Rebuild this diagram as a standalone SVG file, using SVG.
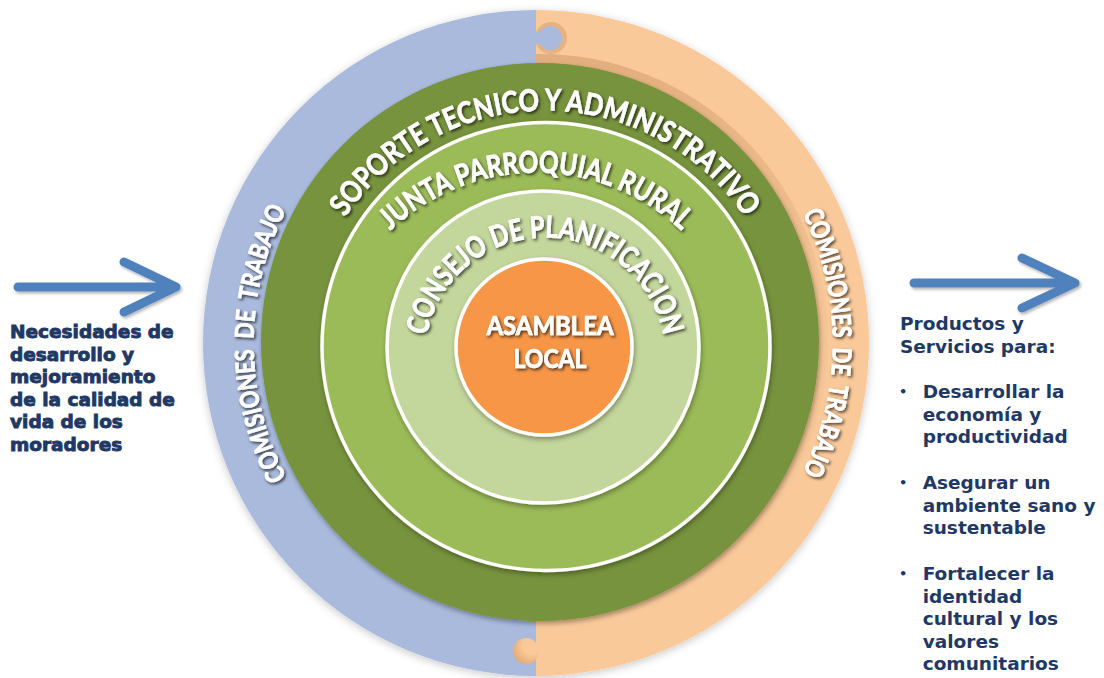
<svg xmlns="http://www.w3.org/2000/svg" xmlns:xlink="http://www.w3.org/1999/xlink" width="1104" height="678" viewBox="0 0 1104 678">
<defs>
<style>
.arc{font-family:Lato,"Open Sans","Liberation Sans",sans-serif;font-weight:700;fill:#fff;stroke:#fff;stroke-width:0.7;filter:url(#tshadow)}
.navy{font-family:"DejaVu Sans","Liberation Sans",sans-serif;font-weight:700;fill:#1F3864}
.left{stroke:#1F3864;stroke-width:0.9;font-size:18.5px}
.right{font-size:18.5px}
.arrow{fill:none;stroke:#4F81BD;stroke-width:9;stroke-linecap:round;stroke-linejoin:round;filter:url(#ashadow)}
.wb{stroke:#fff;stroke-width:3.5}
</style>
<filter id="tshadow" x="-20%" y="-20%" width="140%" height="140%">
<feDropShadow dx="1.5" dy="1.8" stdDeviation="1.4" flood-color="#000" flood-opacity="0.7"/>
</filter>
<filter id="cshadow" x="-10%" y="-10%" width="120%" height="120%">
<feDropShadow dx="1" dy="2.5" stdDeviation="2.5" flood-color="#000" flood-opacity="0.35"/>
</filter>
<filter id="rshadow" x="-10%" y="-10%" width="120%" height="120%">
<feDropShadow dx="0" dy="2" stdDeviation="4" flood-color="#000" flood-opacity="0.22"/>
</filter>
<filter id="ashadow" x="-10%" y="-50%" width="120%" height="200%">
<feDropShadow dx="1.5" dy="2" stdDeviation="1.5" flood-color="#000" flood-opacity="0.3"/>
</filter>
<linearGradient id="bevel" x1="0" y1="0" x2="0" y2="1">
<stop offset="0" stop-color="#8B4513" stop-opacity="0.2"/>
<stop offset="0.4" stop-color="#8B4513" stop-opacity="0.04"/>
<stop offset="1" stop-color="#8B4513" stop-opacity="0"/>
</linearGradient>
<radialGradient id="knob" cx="0.7" cy="0.3" r="0.8">
<stop offset="0.4" stop-color="#F9C999"/>
<stop offset="1" stop-color="#E2A874"/>
</radialGradient>
<clipPath id="rightSide"><rect x="536" y="0" width="568" height="678"/></clipPath>
<path id="pSoporte" d="M304.5,351 A240.5,240.5 0 0 1 785.5,351"/>
<path id="pJunta" d="M324.5,384 A211.5,211.5 0 0 1 747.5,384"/>
<path id="pConsejo" d="M424.5,358 A120.5,120.5 0 0 1 665.5,358"/>
<path id="pComL" d="M540,630 A286,286 0 0 1 540,57"/>
<path id="pComR" d="M540,50 A293,293 0 0 1 540,636"/>
</defs>
<rect width="1104" height="678" fill="#fff"/>

<g id="ring" filter="url(#rshadow)">
<path id="ring-blue" d="M536,10 A333,333 0 0 0 536,676 Z" fill="#A9BADD"/>
<path id="ring-peach" d="M536,10 A333,333 0 1 1 536,676 Z" fill="#F9C999"/>
</g>
<circle cx="540" cy="342" r="283" fill="none" stroke="url(#bevel)" stroke-width="10" clip-path="url(#rightSide)"/>
<g id="puzzle-top">
<circle cx="551" cy="38" r="16" fill="#E6B183" clip-path="url(#rightSide)"/>
<rect x="534" y="32" width="8" height="12" fill="#A9BADD"/>
<circle cx="550" cy="38" r="12" fill="#A9BADD"/>
</g>
<g id="puzzle-bottom">
<rect x="530" y="645" width="8" height="12" fill="#F9C999"/>
<circle cx="526" cy="651" r="13" fill="url(#knob)"/>
</g>

<g id="soporte">
<circle cx="540" cy="342" r="279" fill="#77933C" filter="url(#cshadow)"/>
<text class="arc" font-size="30"><textPath href="#pSoporte" xlink:href="#pSoporte" startOffset="50%" text-anchor="middle" textLength="472" lengthAdjust="spacingAndGlyphs">SOPORTE TECNICO Y ADMINISTRATIVO</textPath></text>
</g>
<g id="junta">
<circle cx="546" cy="346.5" r="224" fill="#9BBB59" class="wb" filter="url(#cshadow)"/>
<text class="arc" font-size="30"><textPath href="#pJunta" xlink:href="#pJunta" startOffset="50%" text-anchor="middle" textLength="321" lengthAdjust="spacingAndGlyphs">JUNTA PARROQUIAL RURAL</textPath></text>
</g>
<g id="consejo">
<circle cx="543" cy="347" r="156" fill="#C3D69B" class="wb" filter="url(#cshadow)"/>
<text class="arc" font-size="30"><textPath href="#pConsejo" xlink:href="#pConsejo" startOffset="50%" text-anchor="middle" textLength="333" lengthAdjust="spacingAndGlyphs">CONSEJO DE PLANIFICACION</textPath></text>
</g>
<g id="asamblea">
<circle cx="544" cy="347" r="88" fill="#F79646" class="wb" filter="url(#cshadow)"/>
<text class="arc" font-size="26" x="550" y="335" text-anchor="middle" textLength="127" lengthAdjust="spacingAndGlyphs">ASAMBLEA</text>
<text class="arc" font-size="26" x="550" y="368" text-anchor="middle" textLength="73" lengthAdjust="spacingAndGlyphs">LOCAL</text>
</g>
<g id="comisiones-left">
<text class="arc" font-size="26" word-spacing="6"><textPath href="#pComL" xlink:href="#pComL" startOffset="50%" text-anchor="middle" textLength="278" lengthAdjust="spacingAndGlyphs">COMISIONES DE TRABAJO</textPath></text>
</g>
<g id="comisiones-right">
<text class="arc" font-size="26" word-spacing="6"><textPath href="#pComR" xlink:href="#pComR" startOffset="50%" text-anchor="middle" textLength="268" lengthAdjust="spacingAndGlyphs">COMISIONES DE TRABAJO</textPath></text>
</g>

<g id="connectors">
<path class="arrow" d="M18,287 H171 M124,262 L176,287 L124,312"/>
<path class="arrow" d="M914,283 H1071 M1022,258 L1075,283 L1022,308"/>
</g>

<g id="inputs">
<text class="navy left" x="10" y="338">Necesidades de</text>
<text class="navy left" x="10" y="360.5">desarrollo y</text>
<text class="navy left" x="10" y="383">mejoramiento</text>
<text class="navy left" x="10" y="405.5">de la calidad de</text>
<text class="navy left" x="10" y="428">vida de los</text>
<text class="navy left" x="10" y="450.5">moradores</text>
</g>

<g id="outputs">
<text class="navy right" x="900" y="330">Productos y</text>
<text class="navy right" x="900" y="352.5">Servicios para:</text>
<text class="navy" font-size="13" x="899" y="396">•</text>
<text class="navy right" x="922.7" y="398">Desarrollar la</text>
<text class="navy right" x="922.7" y="420.5">economía y</text>
<text class="navy right" x="922.7" y="443">productividad</text>
<text class="navy" font-size="13" x="899" y="487">•</text>
<text class="navy right" x="922.7" y="489">Asegurar un</text>
<text class="navy right" x="922.7" y="511.5">ambiente sano y</text>
<text class="navy right" x="922.7" y="534">sustentable</text>
<text class="navy" font-size="13" x="899" y="578">•</text>
<text class="navy right" x="922.7" y="580">Fortalecer la</text>
<text class="navy right" x="922.7" y="602.5">identidad</text>
<text class="navy right" x="922.7" y="625">cultural y los</text>
<text class="navy right" x="922.7" y="647.5">valores</text>
<text class="navy right" x="922.7" y="670">comunitarios</text>
</g>
</svg>
